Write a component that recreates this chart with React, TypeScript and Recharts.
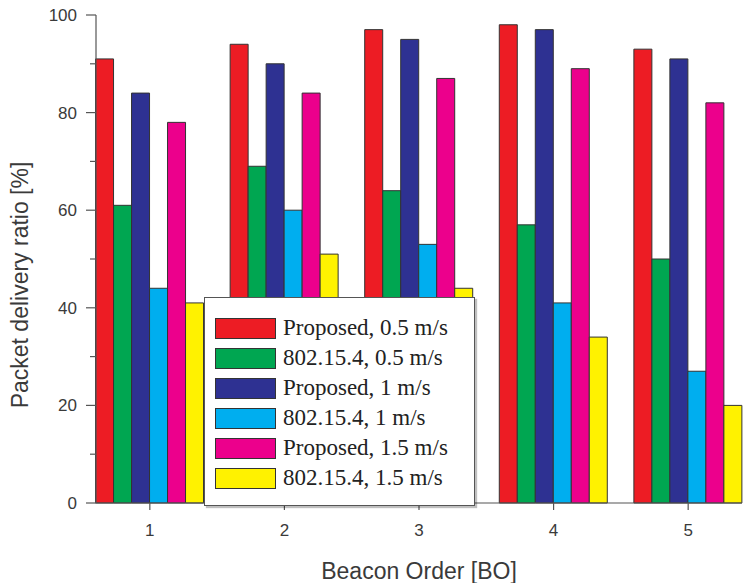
import { BarChart, Bar, XAxis, YAxis, Legend, Label } from "recharts"

const beaconOrders = [1, 2, 3, 4, 5]
const proposed05 = [91, 94, 97, 98, 93]
const std05 = [61, 69, 64, 57, 50]
const proposed1 = [84, 90, 95, 97, 91]
const std1 = [44, 60, 53, 41, 27]
const proposed15 = [78, 84, 87, 89, 82]
const std15 = [41, 51, 44, 34, 20]
const yTicks = [0, 10, 20, 30, 40, 50, 60, 70, 80, 90, 100]

const series = [
  { key: "p05", name: "Proposed, 0.5 m/s", values: proposed05, color: "#ED1C24" },
  { key: "s05", name: "802.15.4, 0.5 m/s", values: std05, color: "#00A651" },
  { key: "p1", name: "Proposed, 1 m/s", values: proposed1, color: "#2E3192" },
  { key: "s1", name: "802.15.4, 1 m/s", values: std1, color: "#00AEEF" },
  { key: "p15", name: "Proposed, 1.5 m/s", values: proposed15, color: "#EC008C" },
  { key: "s15", name: "802.15.4, 1.5 m/s", values: std15, color: "#FFF200" },
]

const data = beaconOrders.map((bo, i) => {
  const row: any = { bo }
  series.forEach(s => { row[s.key] = s.values[i] })
  return row
})

const axisColor = "#555"
const textColor = "#3a3a3a"
const sans = "Liberation Sans, Arial, sans-serif"

function YTick({ x, y, payload }: any) {
  const major = payload.value % 20 === 0
  return (
    <g>
      <line x1={x - (major ? 10 : 6)} x2={x} y1={y} y2={y} stroke={axisColor} strokeWidth={1.2} />
      {major && (
        <text x={x - 19} y={y} dy={6} textAnchor="end" fontSize={17} fill={textColor} fontFamily={sans}>
          {payload.value}
        </text>
      )}
    </g>
  )
}

function XTick({ x, y, payload }: any) {
  return (
    <g>
      <line x1={x} x2={x} y1={y} y2={y + 7} stroke={axisColor} strokeWidth={1.2} />
      <text x={x} y={y + 27} dy={6} textAnchor="middle" fontSize={17} fill={textColor} fontFamily={sans}>
        {payload.value}
      </text>
    </g>
  )
}

function YLabel({ viewBox }: any) {
  // viewBox here is the y axis strip (left of the plot)
  const cx = viewBox.x + viewBox.width - 76
  const cy = viewBox.y + viewBox.height / 2 + 26
  return (
    <text x={cx} y={cy} dy={8} transform={`rotate(-90 ${cx} ${cy})`} textAnchor="middle" fontSize={23} fill={textColor} fontFamily={sans}>
      Packet delivery ratio [%]
    </text>
  )
}

function LegendBox() {
  return (
    <div style={{
      width: 271, height: 209, boxSizing: "border-box", background: "#fff",
      border: "1px solid #555", boxShadow: "2px 2px 1px rgba(0,0,0,0.25)",
      padding: "15px 0 0 10px", fontFamily: "Liberation Serif, Times New Roman, serif",
    }}>
      {series.map(s => (
        <div key={s.key} style={{ display: "flex", alignItems: "center", height: 30 }}>
          <div style={{ width: 61, height: 21, background: s.color, border: "1px solid #333", boxSizing: "border-box" }} />
          <span style={{ marginLeft: 7, fontSize: 23, color: "#222" }}>{s.name}</span>
        </div>
      ))}
    </div>
  )
}

export default function App() {
  return (
    <div style={{ position: "absolute", left: 0, top: 0, width: 748, height: 583, background: "#fff" }}>
      <BarChart width={748} height={583} data={data} margin={{ top: 15, right: 6, left: 0, bottom: 0 }} barGap={0}>
        <XAxis
          dataKey="bo"
          type="number"
          domain={[0.6, 5.4]}
          ticks={beaconOrders}
          height={80}
          tickSize={0}
          tickMargin={0}
          tick={<XTick />}
          stroke={axisColor}
          strokeWidth={1.2}
        >
          <Label value="Beacon Order [BO]" position="insideBottom" offset={4} fontSize={23} fill={textColor} fontFamily={sans} />
        </XAxis>
        <YAxis
          domain={[0, 100]}
          ticks={yTicks}
          width={96}
          tickSize={0}
          tickMargin={0}
          tick={<YTick />}
          stroke={axisColor}
          strokeWidth={1.2}
          interval={0}
        >
          <Label content={<YLabel />} />
        </YAxis>
        {series.map(s => (
          <Bar key={s.key} dataKey={s.key} name={s.name} fill={s.color} stroke="#333" strokeWidth={1} barSize={18} isAnimationActive={false} />
        ))}
        <Legend
          layout="vertical"
          align="center"
          verticalAlign="middle"
          content={() => <LegendBox />}
          wrapperStyle={{ left: 204, top: 297, width: 271, height: 209 }}
        />
      </BarChart>
    </div>
  )
}
